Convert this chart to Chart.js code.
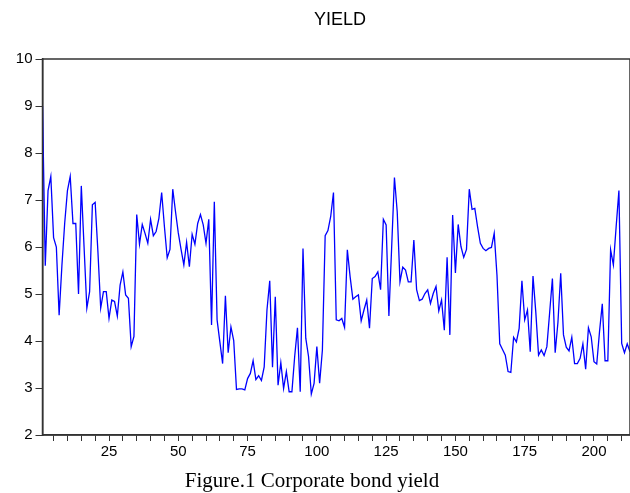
<!DOCTYPE html>
<html>
<head>
<meta charset="utf-8">
<script src="https://cdn.jsdelivr.net/npm/chart.js@4.4.0/dist/chart.umd.min.js"></script>
<style>
  html, body { margin: 0; padding: 0; background: #fff; }
  canvas { display: block; }
</style>
</head>
<body>
<canvas id="myChart" width="630" height="493"></canvas>
<script>
const yieldValues = [
  9.0, 5.6, 7.2, 7.5, 6.2, 6.0, 4.55, 5.6, 6.5, 7.2,
  7.5, 6.5, 6.5, 5.0, 7.3, 6.0, 4.7, 5.05, 6.9, 6.95,
  5.9, 4.7, 5.05, 5.05, 4.48, 4.87, 4.84, 4.53, 5.19, 5.47,
  4.98, 4.91, 3.88, 4.1, 6.69, 6.06, 6.48, 6.29, 6.08, 6.59,
  6.24, 6.33, 6.61, 7.16, 6.43, 5.77, 5.95, 7.23, 6.75, 6.3,
  5.95, 5.62, 6.1, 5.58, 6.27, 6.06, 6.5, 6.69, 6.47, 6.08,
  6.59, 4.34, 6.96, 4.45, 3.98, 3.52, 4.96, 3.75, 4.3, 4.01,
  2.97, 2.98, 2.98, 2.96, 3.2, 3.31, 3.58, 3.18, 3.26, 3.16,
  3.45, 4.66, 5.28, 3.44, 4.94, 3.06, 3.54, 2.99, 3.35, 2.92,
  2.92, 3.67, 4.28, 2.92, 5.97, 4.06, 3.67, 2.87, 3.1, 3.88,
  3.1, 3.81, 6.24, 6.35, 6.65, 7.16, 4.45, 4.43, 4.48, 4.29,
  5.94, 5.37, 4.89, 4.94, 4.98, 4.43, 4.66, 4.87, 4.27, 5.33,
  5.37, 5.47, 5.09, 6.59, 6.47, 4.53, 6.0, 7.48, 6.75, 5.26,
  5.57, 5.51, 5.26, 5.26, 6.15, 5.09, 4.86, 4.89, 5.01, 5.09,
  4.8, 5.01, 5.16, 4.64, 4.87, 4.23, 5.78, 4.13, 6.68, 5.45,
  6.48, 6.01, 5.78, 5.95, 7.23, 6.8, 6.82, 6.43, 6.08, 5.97,
  5.92, 5.97, 5.99, 6.29, 5.4, 3.94, 3.82, 3.7, 3.35, 3.33,
  4.08, 3.98, 4.27, 5.28, 4.45, 4.66, 3.77, 5.38, 4.62, 3.7,
  3.81, 3.69, 3.88, 4.6, 5.33, 3.75, 4.4, 5.44, 4.13, 3.87,
  3.79, 4.08, 3.52, 3.52, 3.63, 3.94, 3.4, 4.28, 4.09, 3.56,
  3.51, 4.2, 4.79, 3.58, 3.58, 5.94, 5.62, 6.43, 7.2, 3.95,
  3.75, 3.94, 3.77
];
const observations = yieldValues.map((v, i) => i + 1);
const xTickValues = [];
for (let t = 5; t <= 210; t += 5) xTickValues.push(t);
const xLabelValues = [25, 50, 75, 100, 125, 150, 175, 200];
const yTickValues = [2, 3, 4, 5, 6, 7, 8, 9, 10];

const titleText = 'YIELD';
const captionText = 'Figure.1 Corporate bond yield';
const axisColor = '#333333';

const framePlugin = {
  id: 'frame',
  afterDraw(chart) {
    const ctx = chart.ctx;
    const a = chart.chartArea;
    ctx.save();
    ctx.strokeStyle = axisColor;
    ctx.lineWidth = 1.5;
    ctx.strokeRect(a.left, a.top, a.right - a.left, a.bottom - a.top);
    ctx.fillStyle = '#000';
    ctx.textAlign = 'center';
    ctx.textBaseline = 'middle';
    ctx.font = '18px Arial, "Liberation Sans", sans-serif';
    ctx.fillText(titleText, 340, 20);
    ctx.font = '21px "Times New Roman", "Liberation Serif", serif';
    ctx.fillText(captionText, 312, 481);
    ctx.restore();
  }
};

const ctx = document.getElementById('myChart').getContext('2d');
const myChart = new Chart(ctx, {
  type: 'line',
  data: {
    datasets: [{
      label: titleText,
      data: observations.map((x, i) => ({ x: x, y: yieldValues[i] })),
      borderColor: '#0000ff',
      borderWidth: 1.3,
      pointRadius: 0,
      tension: 0,
      fill: false
    }]
  },
  options: {
    responsive: false,
    devicePixelRatio: 1,
    animation: false,
    layout: { padding: { top: 59, right: 0, bottom: 28, left: 0 } },
    plugins: {
      legend: { display: false },
      tooltip: { enabled: false }
    },
    scales: {
      x: {
        type: 'linear',
        min: 1,
        max: 213,
        afterBuildTicks: (scale) => {
          scale.ticks = xTickValues.map(v => ({ value: v }));
        },
        afterFit: (scale) => { scale.height = 30; },
        ticks: {
          autoSkip: false,
          maxRotation: 0,
          padding: 2,
          color: '#000',
          font: { family: 'Arial, "Liberation Sans", sans-serif', size: 15 },
          callback: (v) => xLabelValues.includes(v) ? String(v) : ''
        },
        grid: { drawOnChartArea: false, tickLength: 6, color: axisColor, lineWidth: 1 },
        border: { display: true, color: axisColor, width: 1.5 }
      },
      y: {
        min: 2,
        max: 10,
        afterBuildTicks: (scale) => {
          scale.ticks = yTickValues.map(v => ({ value: v }));
        },
        afterFit: (scale) => { scale.width = 42.5; },
        ticks: {
          padding: 3,
          color: '#000',
          font: { family: 'Arial, "Liberation Sans", sans-serif', size: 15 }
        },
        grid: { drawOnChartArea: false, tickLength: 7, color: axisColor, lineWidth: 1 },
        border: { display: true, color: axisColor, width: 1.5 }
      }
    }
  },
  plugins: [framePlugin]
});
</script>
</body>
</html>
